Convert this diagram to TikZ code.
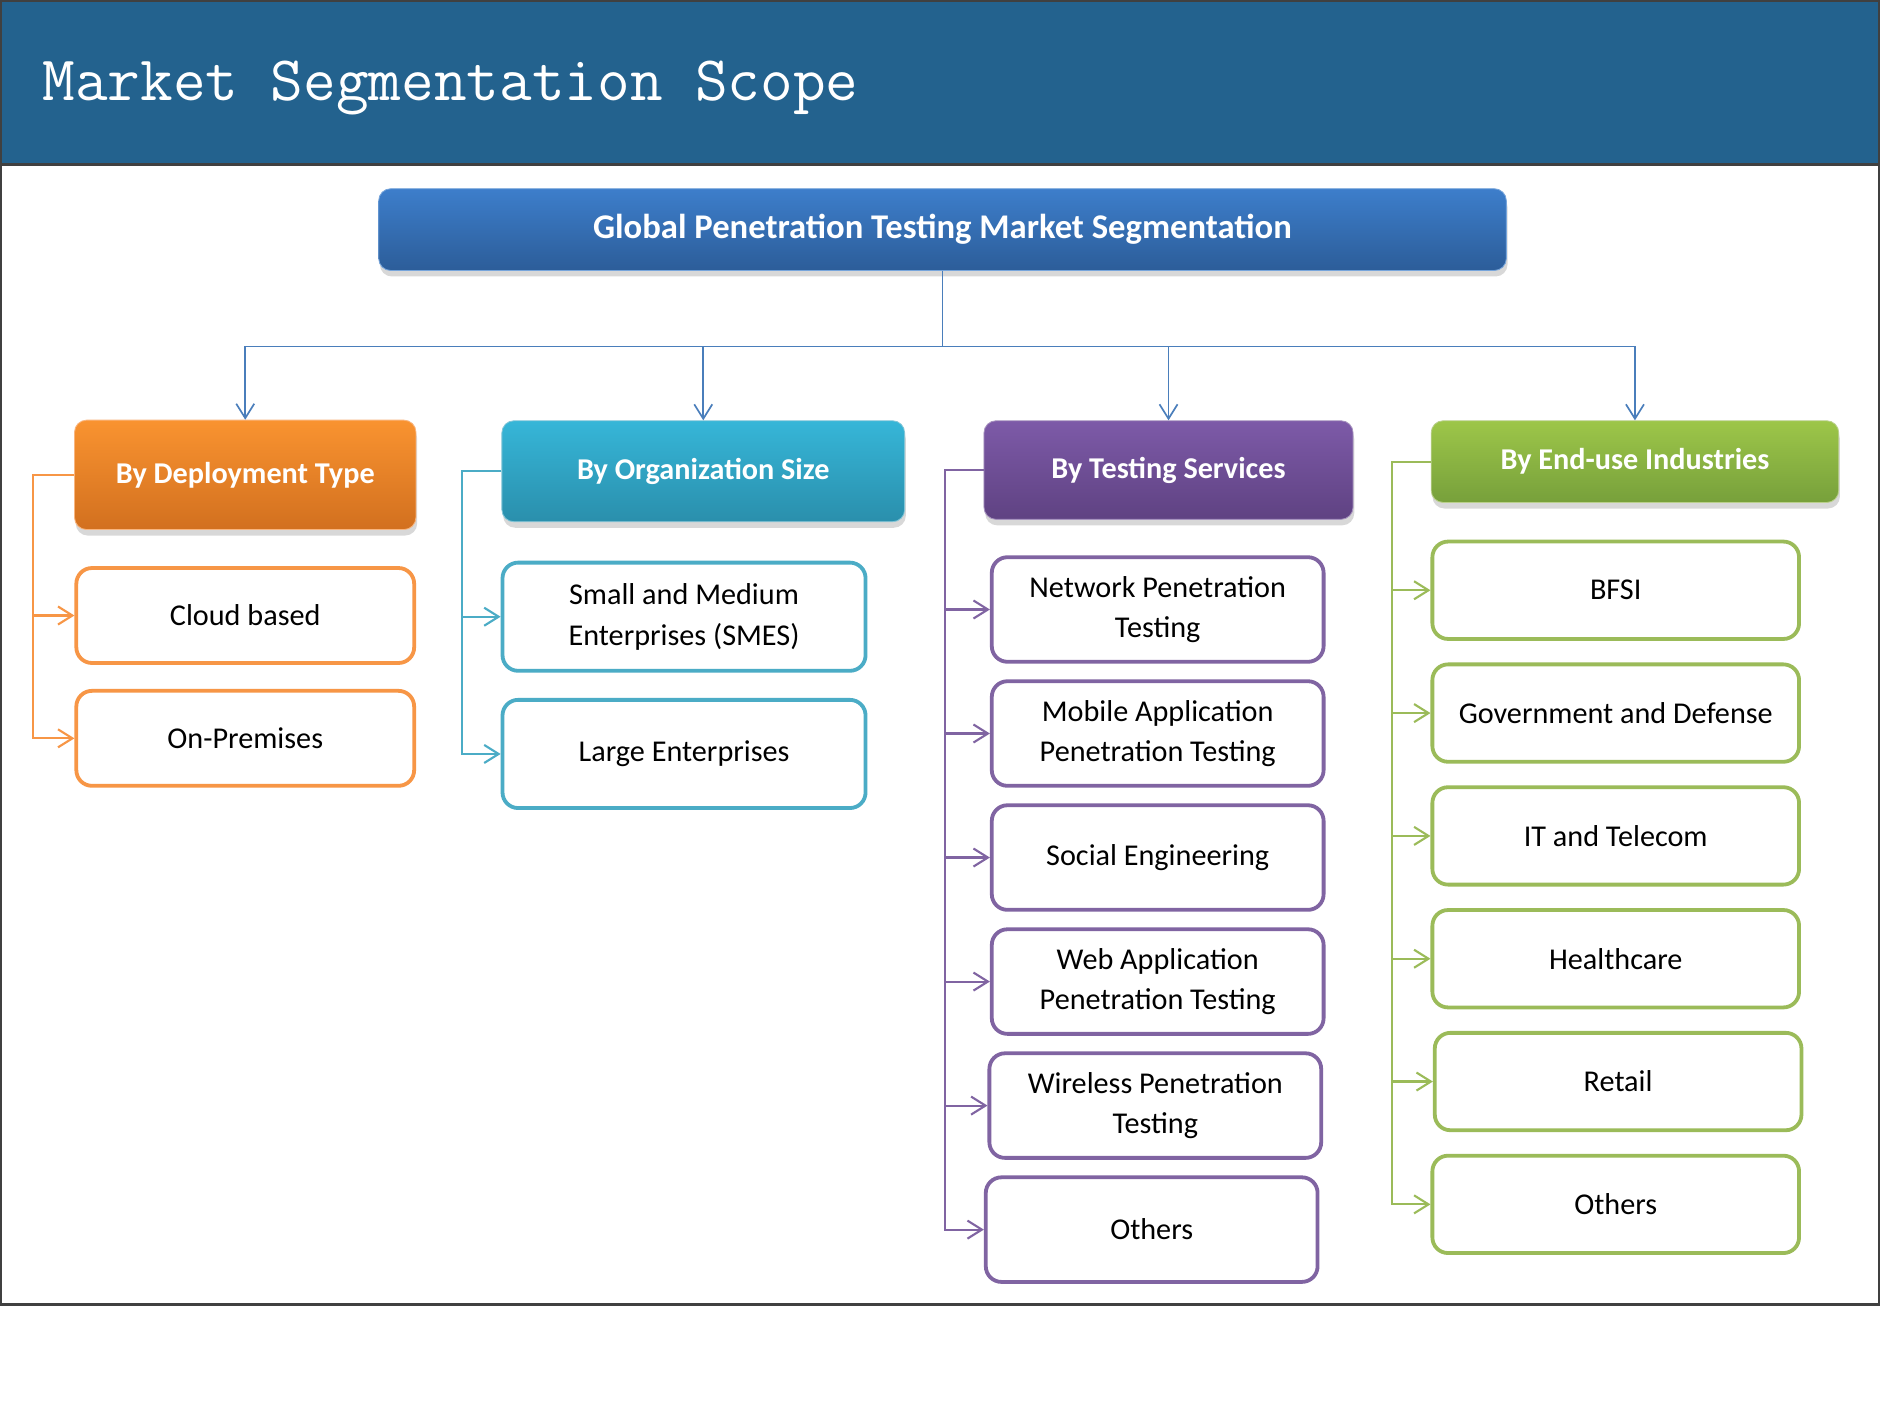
\documentclass[tikz,border=0pt]{standalone}
\usepackage{fontspec}
\setmainfont{Carlito}
\usepackage{xcolor}
\usetikzlibrary{positioning,shadows,arrows.meta}

\definecolor{headblue}{HTML}{23628E}
\definecolor{framegray}{HTML}{404040}
\definecolor{rootline}{HTML}{4A7EBB}
\definecolor{roottop}{HTML}{3D7ECB}
\definecolor{rootbottom}{HTML}{2C5D99}
\definecolor{orangeline}{HTML}{F79646}
\definecolor{orangetop}{HTML}{F99330}
\definecolor{orangebottom}{HTML}{D2701F}
\definecolor{cyanline}{HTML}{4BACC6}
\definecolor{cyantop}{HTML}{36B6D8}
\definecolor{cyanbottom}{HTML}{2A8FAC}
\definecolor{purpleline}{HTML}{8064A2}
\definecolor{purpletop}{HTML}{7D5AA8}
\definecolor{purplebottom}{HTML}{5F4282}
\definecolor{greenline}{HTML}{9BBB59}
\definecolor{greentop}{HTML}{9DC649}
\definecolor{greenbottom}{HTML}{77A03B}

\begin{document}
\begin{tikzpicture}[x=0.2mm, y=0.2mm, font=\fontsize{14.3}{19.3}\selectfont]

    \tikzstyle{head}=[rounded corners=2mm, text=white, font=\bfseries\fontsize{14.3}{17}\selectfont,
                      drop shadow={shadow xshift=0.2mm, shadow yshift=-1mm, opacity=0.3}]
    \tikzstyle{item}=[draw, line width=1.8pt, rounded corners=2.6mm, fill=white, text=black, align=center]
    \tikzstyle{link}=[line width=1pt, -{Straight Barb[length=2.4mm,width=3mm]}]

    % frame and title band
    \useasboundingbox (0,0) rectangle (1568,-1165);
    \fill[white] (0,0) rectangle (1568,-1165);
    \fill[headblue] (1,-1) rectangle (1563,-137);
    \draw[framegray, line width=0.4mm] (1,-1) rectangle (1563,-1085);
    \draw[framegray, line width=0.4mm] (1,-137) -- (1563,-137);
    \node[anchor=base west, inner sep=0, text=white, font=\ttfamily\fontsize{30}{35}\selectfont] (TITLE) at (35,-84) {Market Segmentation Scope};

    \node[head, top color=roottop, bottom color=rootbottom, draw=roottop!70!white, minimum width=187.6mm, minimum height=13.6mm,
          font=\bfseries\fontsize{16.4}{19}\selectfont] (ROOT) at (784,-191) {Global Penetration Testing Market Segmentation};

    \node[head, top color=orangetop, bottom color=orangebottom, draw=orangeline!70!white, minimum width=56.8mm, minimum height=18.2mm] (DEPLOYMENT) at (204,-395) {By Deployment Type};
    \node[head, top color=cyantop, bottom color=cyanbottom, draw=cyanline!70!white, minimum width=67mm, minimum height=16.8mm] (ORGSIZE) at (585,-392) {By Organization Size};
    \node[head, top color=purpletop, bottom color=purplebottom, draw=purpleline!70!white, minimum width=61.4mm, minimum height=16.4mm] (SERVICES) at (972,-391) {By Testing Services};
    \node[head, top color=greentop, bottom color=greenbottom, draw=greenline!70!white, minimum width=67.8mm, minimum height=13.6mm] (ENDUSE) at (1360,-384) {By End-use Industries};

    \node[item, draw=orangeline, minimum width=56.2mm, minimum height=15.8mm] (CLOUD) at (204,-512) {Cloud based};
    \node[item, draw=orangeline, minimum width=56.2mm, minimum height=15.8mm] (ONPREMISES) [below=4mm of CLOUD] {On-Premises};

    \node[item, draw=cyanline, minimum width=60.4mm, minimum height=18mm] (SMES) at (569,-513) {Small and Medium\\Enterprises (SMES)};
    \node[item, draw=cyanline, minimum width=60.4mm, minimum height=18mm] (LARGE) [below=4.2mm of SMES] {Large Enterprises};

    \node[item, draw=purpleline, minimum width=55.2mm, minimum height=17.4mm] (NETWORK) at (963,-507) {Network Penetration\\Testing};
    \node[item, draw=purpleline, minimum width=55.2mm, minimum height=17.4mm] (MOBILE) [below=2.6mm of NETWORK] {Mobile Application\\Penetration Testing};
    \node[item, draw=purpleline, minimum width=55.2mm, minimum height=17.4mm] (SOCIAL) [below=2.6mm of MOBILE] {Social Engineering};
    \node[item, draw=purpleline, minimum width=55.2mm, minimum height=17.4mm] (WEB) [below=2.6mm of SOCIAL] {Web Application\\Penetration Testing};
    \node[item, draw=purpleline, minimum width=55.2mm, minimum height=17.4mm] (WIRELESS) [below=2.6mm of WEB, xshift=-0.4mm] {Wireless Penetration\\Testing};
    \node[item, draw=purpleline, minimum width=55.2mm, minimum height=17.4mm] (SVCOTHERS) [below=2.6mm of WIRELESS, xshift=-0.6mm] {Others};

    \node[item, draw=greenline, minimum width=61mm, minimum height=16.2mm] (BFSI) at (1344,-491) {BFSI};
    \node[item, draw=greenline, minimum width=61mm, minimum height=16.2mm] (GOVERNMENT) [below=3.6mm of BFSI] {Government and Defense};
    \node[item, draw=greenline, minimum width=61mm, minimum height=16.2mm] (ITTELECOM) [below=3.6mm of GOVERNMENT] {IT and Telecom};
    \node[item, draw=greenline, minimum width=61mm, minimum height=16.2mm] (HEALTHCARE) [below=3.6mm of ITTELECOM] {Healthcare};
    \node[item, draw=greenline, minimum width=61mm, minimum height=16.2mm] (RETAIL) [below=3.6mm of HEALTHCARE, xshift=0.4mm] {Retail};
    \node[item, draw=greenline, minimum width=61mm, minimum height=16.2mm] (INDOTHERS) [below=3.6mm of RETAIL, xshift=-0.4mm] {Others};

    % connectors
    \foreach \n in {DEPLOYMENT, ORGSIZE, SERVICES, ENDUSE}
        \draw[link, rootline, line width=0.8pt] (ROOT.south) -- ++(0,-63) -| (\n.north);
    \foreach \n in {CLOUD, ONPREMISES}
        \draw[link, orangeline] (DEPLOYMENT.west) -- ++(-34,0) |- (\n.west);
    \foreach \n in {SMES, LARGE}
        \draw[link, cyanline] (ORGSIZE.west) -- ++(-33,0) |- (\n.west);
    \foreach \n in {NETWORK, MOBILE, SOCIAL, WEB, WIRELESS, SVCOTHERS}
        \draw[link, purpleline] (SERVICES.west) -- ++(-32,0) |- (\n.west);
    \foreach \n in {BFSI, GOVERNMENT, ITTELECOM, HEALTHCARE, RETAIL, INDOTHERS}
        \draw[link, greenline] (ENDUSE.west) -- ++(-32,0) |- (\n.west);

\end{tikzpicture}
\end{document}
